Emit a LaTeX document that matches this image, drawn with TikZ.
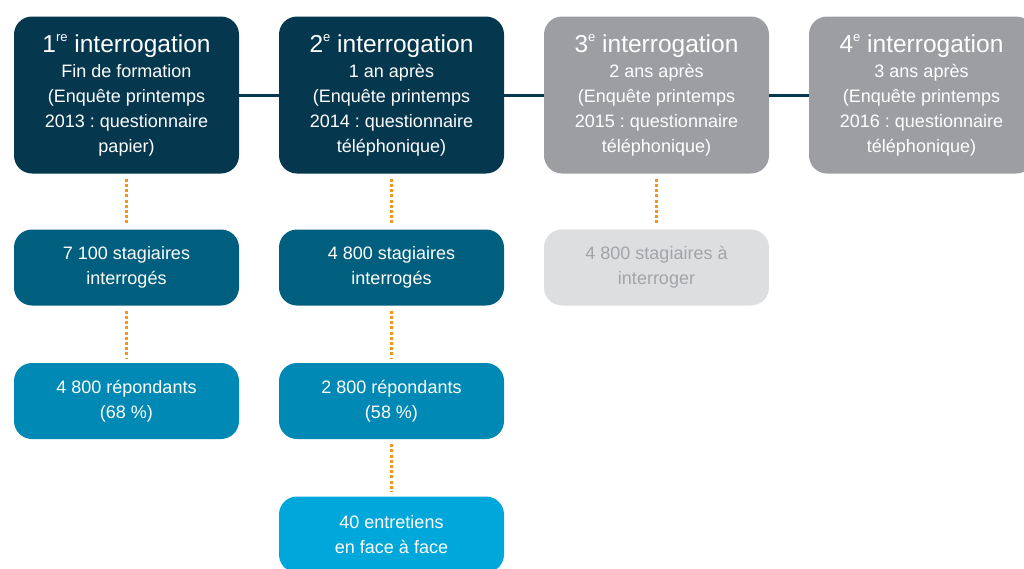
\documentclass[tikz,border=0pt]{standalone}
\usepackage{fontspec}
\setmainfont{Liberation Sans}
\usetikzlibrary{positioning}

\definecolor{navy}{HTML}{05374F}
\definecolor{greybox}{HTML}{9D9EA1}
\definecolor{teal}{HTML}{005F7E}
\definecolor{midblue}{HTML}{0089B4}
\definecolor{lightblue}{HTML}{00A7DA}
\definecolor{palegrey}{HTML}{DDDEE0}
\definecolor{palefont}{HTML}{A3A4A7}
\definecolor{orangedot}{HTML}{F7941D}

\tikzset{
  wave/.style={rectangle, rounded corners=18pt, minimum width=225pt, minimum height=157pt,
    align=center, text=white, inner sep=0pt, font=\fontsize{18}{25}\selectfont\frenchspacing},
  count/.style={wave, minimum height=76pt},
  link/.style={navy, line width=3pt},
  dots/.style={orangedot, line width=3pt, dash pattern=on 3pt off 2.2pt, shorten <=5pt, shorten >=5pt}
}
\newcommand{\wavetitle}[2]{{\fontsize{24.5}{27}\selectfont #1\raisebox{0.45em}{\fontsize{13}{13}\selectfont #2} interrogation}}

\begin{document}
\begin{tikzpicture}[x=1pt,y=-1pt]
\useasboundingbox (0,0) rectangle (1024,568);
% timeline
\node[wave, fill=navy] (t1) at (126.5,95) {\wavetitle{1}{re}\\Fin de formation\\(Enquête printemps\\2013 : questionnaire\\papier)};
\node[wave, fill=navy] (t2) at (391.5,95) {\wavetitle{2}{e}\\1 an après\\(Enquête printemps\\2014 : questionnaire\\téléphonique)};
\node[wave, fill=greybox] (t3) at (656.5,95) {\wavetitle{3}{e}\\2 ans après\\(Enquête printemps\\2015 : questionnaire\\téléphonique)};
\node[wave, fill=greybox] (t4) at (921.5,95) {\wavetitle{4}{e}\\3 ans après\\(Enquête printemps\\2016 : questionnaire\\téléphonique)};
\draw[link] (t1.east) -- (t2.west);
\draw[link] (t2.east) -- (t3.west);
\draw[link] (t3.east) -- (t4.west);
% samples
\node[count, fill=teal] (m1) at (126.5,267.5) {7 100 stagiaires\\interrogés};
\node[count, fill=teal] (m2) at (391.5,267.5) {4 800 stagiaires\\interrogés};
\node[count, fill=palegrey, text=palefont] (m3) at (656.5,267.5) {4 800 stagiaires à\\interroger};
\node[count, fill=midblue] (r1) at (126.5,401) {4 800 répondants\\(68 \%)};
\node[count, fill=midblue] (r2) at (391.5,401) {2 800 répondants\\(58 \%)};
\node[count, fill=lightblue] (e2) at (391.5,534.5) {40 entretiens\\en face à face};
% dotted links
\draw[dots] (t1.south) -- (m1.north);
\draw[dots] (t2.south) -- (m2.north);
\draw[dots] (t3.south) -- (m3.north);
\draw[dots] (m1.south) -- (r1.north);
\draw[dots] (m2.south) -- (r2.north);
\draw[dots] (r2.south) -- (e2.north);
\end{tikzpicture}
\end{document}
